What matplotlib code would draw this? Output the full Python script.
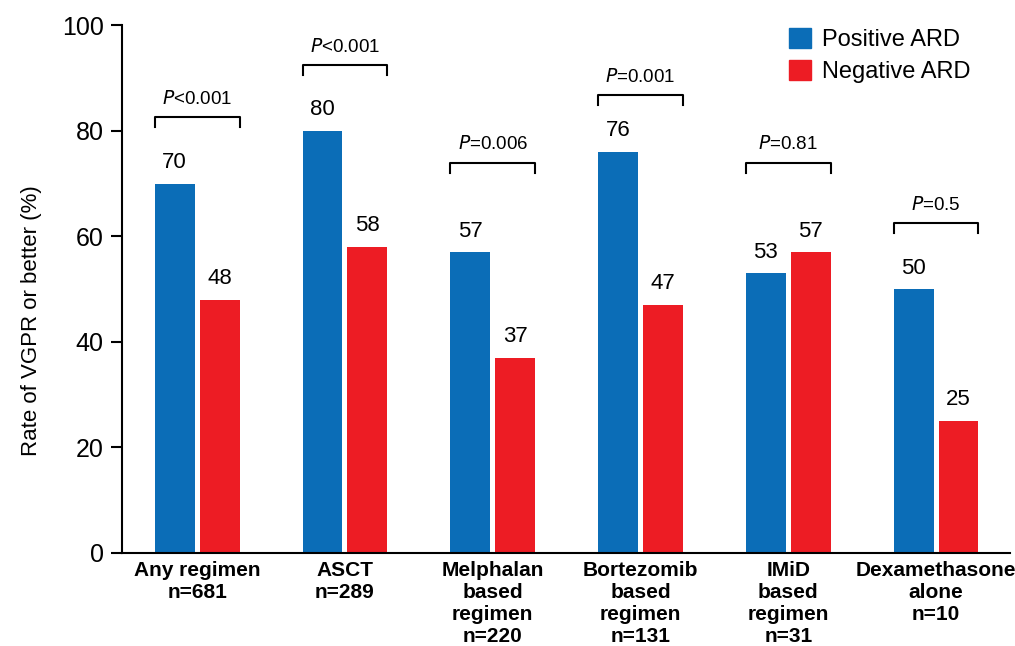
import numpy as np
import matplotlib
matplotlib.use("Agg")
from matplotlib import pyplot as plt
from matplotlib.patches import Patch

plt.rcParams['font.family'] = ['Liberation Sans', 'DejaVu Sans']

categories = ["Any regimen\nn=681", "ASCT\nn=289", "Melphalan\nbased\nregimen\nn=220",
              "Bortezomib\nbased\nregimen\nn=131", "IMiD\nbased\nregimen\nn=31",
              "Dexamethasone\nalone\nn=10"]
positive = [70, 80, 57, 76, 53, 50]
negative = [48, 58, 37, 47, 57, 25]
p_values = ["<0.001", "<0.001", "=0.006", "=0.001", "=0.81", "=0.5"]
bracket_y = [82.6, 92.4, 73.9, 86.7, 73.9, 62.5]

BLEU = "#0B6DB7"
ROUGE = "#ED1C24"

fig = plt.figure(figsize=(10.15, 6.46), dpi=100)
ax = fig.add_axes([0.120, 0.144, 0.875, 0.817])

x = np.arange(len(categories))
largeur = 0.27
decal = 0.152

ax.bar(x - decal, positive, width=largeur, color=BLEU)
ax.bar(x + decal, negative, width=largeur, color=ROUGE)

# valeurs au-dessus des barres
for i in range(len(categories)):
    ax.text(x[i] - decal, positive[i] + 2, str(positive[i]), ha="center", va="bottom", fontsize=16)
    ax.text(x[i] + decal, negative[i] + 2, str(negative[i]), ha="center", va="bottom", fontsize=16)

# crochets avec les valeurs de P
for i in range(len(categories)):
    g = x[i] - decal - largeur / 2
    d = x[i] + decal + largeur / 2
    y = bracket_y[i]
    ax.plot([g, g, d, d], [y - 1.9, y, y, y - 1.9], color="black", lw=1.5, clip_on=False)
    ax.text(x[i], y + 1.8, r"$\it{P}$" + p_values[i], ha="center", va="bottom", fontsize=13.5)

ax.set_xlim(-0.51, 5.50)
ax.set_ylim(0, 100)
ax.set_yticks([0, 20, 40, 60, 80, 100])
ax.tick_params(axis="y", labelsize=18, length=8, width=1.5, pad=5)
ax.tick_params(axis="x", length=0, pad=6)
ax.set_xticks(x)
ax.set_xticklabels(categories, fontsize=15, fontweight="bold", linespacing=1.2, va="top")
ax.set_ylabel("Rate of VGPR or better (%)", fontsize=16)
ax.yaxis.set_label_coords(-0.09, 0.44)

for s in ["top", "right"]:
    ax.spines[s].set_visible(False)
for s in ["left", "bottom"]:
    ax.spines[s].set_linewidth(1.5)

handles = [Patch(color=BLEU, label="Positive ARD"), Patch(color=ROUGE, label="Negative ARD")]
ax.legend(handles=handles, loc="upper right", bbox_to_anchor=(0.98, 1.035), frameon=False,
          fontsize=17, handlelength=0.9, handleheight=0.9, handletextpad=0.5, labelspacing=0.4)

fig.savefig("out.png", dpi=100)
